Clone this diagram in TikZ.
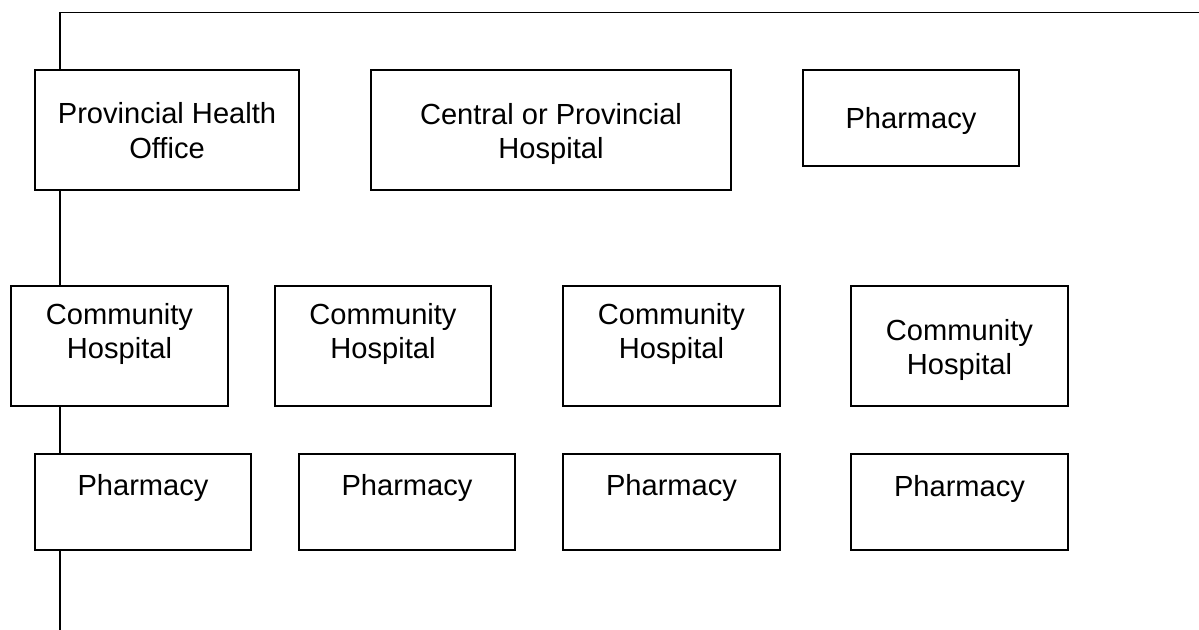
\documentclass[tikz,border=0pt]{standalone}
\usepackage{fontspec}
\setmainfont{Liberation Sans}
\begin{document}
\begin{tikzpicture}[x=1bp,y=-1bp,
  box/.style={draw, line width=1.8bp, inner sep=0pt, fill=white},
  lbl/.style={font=\fontsize{29.2}{35}\selectfont, align=center, inner sep=0pt},
  link/.style={draw, line width=1.6bp}]
  \useasboundingbox[fill=white] (0,0) rectangle (1199,630);

  % top level
  \node[box, minimum width=264bp, minimum height=120bp] (pho) at (167,130) {};
  \node[box, minimum width=360bp, minimum height=120bp] (cen) at (551,130) {};
  \node[box, minimum width=216bp, minimum height=96bp]  (ph0) at (911,118) {};
  \node[lbl] (pho-t) at (167,130.5) {Provincial Health\\Office};
  \node[lbl] (cen-t) at (551,134) {Central or Provincial\\Hospital};
  \node[lbl, anchor=base] (ph0-t) at (911,129) {Pharmacy};

  % community hospitals
  \node[box, minimum width=217bp, minimum height=120bp] (ch1) at (119.5,346) {};
  \node[box, minimum width=216bp, minimum height=120bp] (ch2) at (383,346) {};
  \node[box, minimum width=217bp, minimum height=120bp] (ch3) at (671.5,346) {};
  \node[box, minimum width=217bp, minimum height=120bp] (ch4) at (959.5,346) {};
  \node[lbl] (ch1-t) at (119.5,334) {Community\\Hospital};
  \node[lbl] (ch2-t) at (383,334) {Community\\Hospital};
  \node[lbl] (ch3-t) at (671.5,334) {Community\\Hospital};
  \node[lbl] (ch4-t) at (959.5,350) {Community\\Hospital};

  % pharmacies
  \node[box, minimum width=216bp, minimum height=96bp] (ph1) at (143,502) {};
  \node[box, minimum width=216bp, minimum height=96bp] (ph2) at (407,502) {};
  \node[box, minimum width=217bp, minimum height=96bp] (ph3) at (671.5,502) {};
  \node[box, minimum width=217bp, minimum height=96bp] (ph4) at (959.5,502) {};
  \node[lbl, anchor=base] (ph1-t) at (143,495) {Pharmacy};
  \node[lbl, anchor=base] (ph2-t) at (407,495) {Pharmacy};
  \node[lbl, anchor=base] (ph3-t) at (671.5,495) {Pharmacy};
  \node[lbl, anchor=base] (ph4-t) at (959.5,496) {Pharmacy};

  % trunk line on the left
  \coordinate (top)  at (60,12.5);
  \coordinate (topR) at (1199,12.5);
  \coordinate (bot)  at (60,630);
  \draw[link] (topR) -- (top) -- (pho.north -| top);
  \draw[link] (pho.south -| top) -- (ch1.north -| top);
  \draw[link] (ch1.south -| top) -- (ph1.north -| top);
  \draw[link] (ph1.south -| top) -- (bot);
\end{tikzpicture}
\end{document}
